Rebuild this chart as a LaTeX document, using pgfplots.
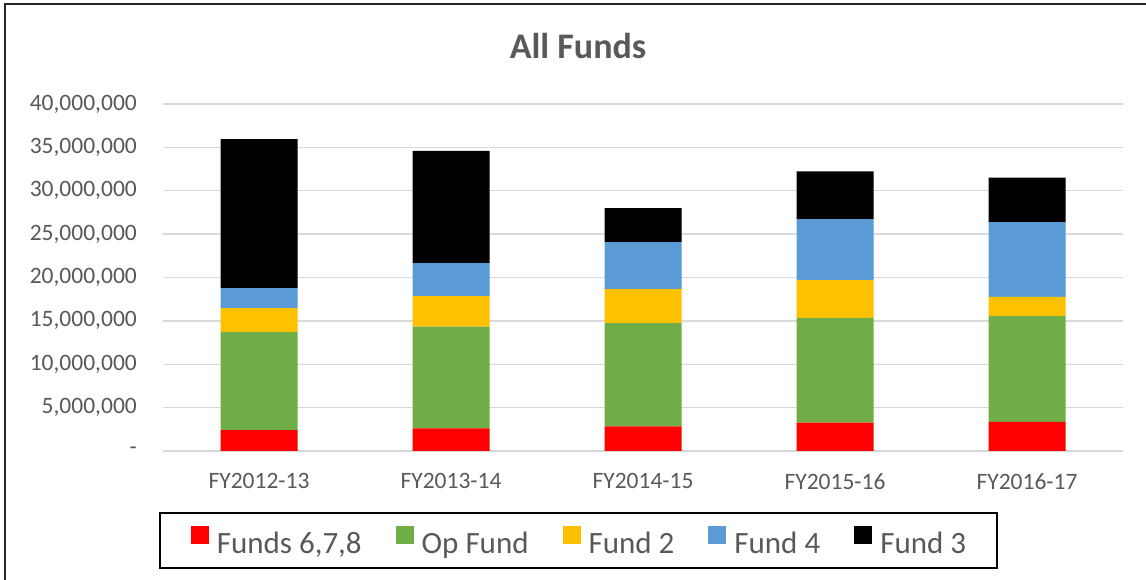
\documentclass[border=0pt]{standalone}
\usepackage{fontspec}
\setmainfont{Carlito}
\usepackage{pgfplots}
\usepackage{pgfplotstable}
\pgfplotsset{compat=1.18}
\definecolor{cRed}{HTML}{FF0000}
\definecolor{cGreen}{HTML}{70AD47}
\definecolor{cYellow}{HTML}{FFC000}
\definecolor{cBlue}{HTML}{5B9BD5}
\definecolor{cBlack}{HTML}{000000}
\definecolor{txtgray}{HTML}{595959}
\definecolor{gridgray}{HTML}{D9D9D9}

\pgfplotstableread{
x red green yellow blue black
0 2420000 11310000 2730000 2310000 17190000
1 2620000 11730000 3500000 3800000 12950000
2 2850000 11880000 3920000 5430000 3920000
3 3270000 12080000 4340000 7040000 5500000
4 3350000 12230000 2190000 8610000 5120000
}\datatable

\begin{document}
\begin{tikzpicture}
\useasboundingbox (0bp,0bp) rectangle (1146bp,580bp);
\fill[white] (0bp,0bp) rectangle (1146bp,580bp);
\draw[line width=2bp, black!85] (5bp,0bp) -- (5bp,576bp) -- (1146bp,576bp);
\node[font=\bfseries\fontsize{36bp}{40bp}\selectfont, text=txtgray, anchor=base] at (578bp,521bp) {All Funds};
\begin{axis}[
  at={(163bp,129bp)}, anchor=south west,
  scale only axis, width=960bp, height=347bp,
  ybar stacked, bar width=77bp,
  xmin=-0.5, xmax=4.5, ymin=0, ymax=40000000,
  xtick={0,1,2,3,4},
  xticklabels={FY2012-13,FY2013-14,FY2014-15,FY2015-16,FY2016-17},
  ytick={0,5000000,10000000,15000000,20000000,25000000,30000000,35000000,40000000},
  yticklabels={-,{5,000,000},{10,000,000},{15,000,000},{20,000,000},{25,000,000},{30,000,000},{35,000,000},{40,000,000}},
  scaled y ticks=false,
  ymajorgrids, grid style={draw=gridgray, line width=1.3bp},
  axis line style={draw=none},
  major tick length=0pt,
  tick label style={font=\fontsize{23.5bp}{28bp}\selectfont, text=txtgray},
  yticklabel style={inner sep=0pt, anchor=east, xshift=-26bp},
  xticklabel style={inner sep=0pt, anchor=north, yshift=-22bp},
  legend columns=5,
  legend style={at={(rel axis cs:0.4328,-0.258)}, anchor=center,
    draw=black, line width=2bp,
    font=\fontsize{31bp}{36bp}\selectfont, text=txtgray,
    inner xsep=31bp, inner ysep=13bp,
    nodes={inner sep=0pt},
    /tikz/every odd column/.append style={column sep=8bp},
    /tikz/every even column/.append style={column sep=34bp}},
  legend image code/.code={\fill[#1] (0bp,-1bp) rectangle (18bp,17bp);},
]
\addplot[fill=cRed, draw=none] table[x=x,y=red] {\datatable};
\addplot[fill=cGreen, draw=none] table[x=x,y=green] {\datatable};
\addplot[fill=cYellow, draw=none] table[x=x,y=yellow] {\datatable};
\addplot[fill=cBlue, draw=none] table[x=x,y=blue] {\datatable};
\addplot[fill=cBlack, draw=none] table[x=x,y=black] {\datatable};
\legend{{Funds 6,7,8},{Op Fund},{Fund 2},{Fund 4},{Fund 3}}
\end{axis}
\end{tikzpicture}
\end{document}
